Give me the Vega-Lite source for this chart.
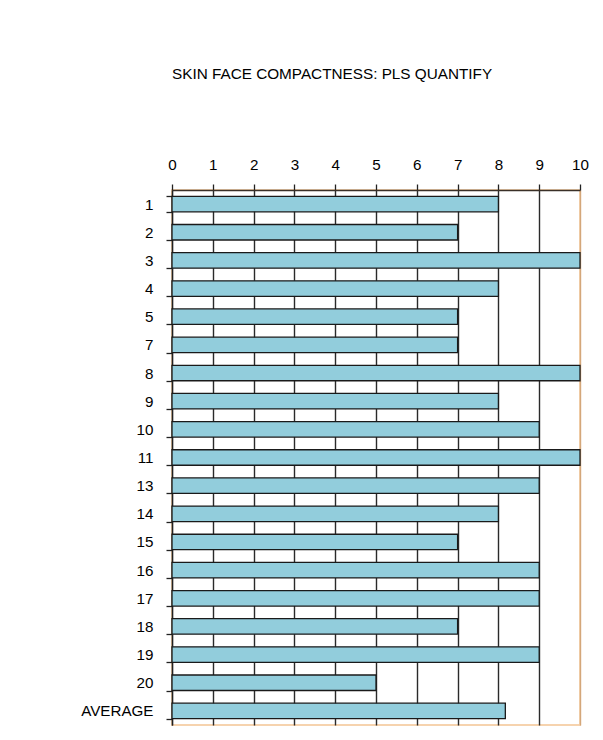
{
  "$schema": "https://vega.github.io/schema/vega-lite/v6.json",
  "autosize": {"type": "none"},
  "padding": {"left": 172, "top": 190, "right": 23, "bottom": 15},
  "width": 408,
  "height": 535,
  "background": "white",
  "title": {
    "text": "SKIN FACE COMPACTNESS: PLS QUANTIFY",
    "anchor": "start",
    "frame": "group",
    "font": "Liberation Sans",
    "fontSize": 15.3,
    "fontWeight": "normal",
    "color": "#000000",
    "offset": 75
  },
  "data": {
    "values": [
      {"row": "1", "score": 8},
      {"row": "2", "score": 7},
      {"row": "3", "score": 10},
      {"row": "4", "score": 8},
      {"row": "5", "score": 7},
      {"row": "7", "score": 7},
      {"row": "8", "score": 10},
      {"row": "9", "score": 8},
      {"row": "10", "score": 9},
      {"row": "11", "score": 10},
      {"row": "13", "score": 9},
      {"row": "14", "score": 8},
      {"row": "15", "score": 7},
      {"row": "16", "score": 9},
      {"row": "17", "score": 9},
      {"row": "18", "score": 7},
      {"row": "19", "score": 9},
      {"row": "20", "score": 5},
      {"row": "AVERAGE", "score": 8.17}
    ]
  },
  "mark": {"type": "bar", "color": "#92cddc", "stroke": "#1a1a1a", "strokeWidth": 1.3},
  "encoding": {
    "y": {
      "field": "row",
      "type": "nominal",
      "sort": null,
      "scale": {"paddingInner": 0.45, "paddingOuter": 0.225},
      "axis": {
        "title": null,
        "tickBand": "extent",
        "tickSize": 6,
        "tickColor": "#222222",
        "tickWidth": 1.3,
        "domainColor": "#222222",
        "domainWidth": 1.3,
        "labelPadding": 13,
        "labelFont": "Liberation Sans",
        "labelFontSize": 15.2,
        "labelColor": "#000000",
        "grid": false
      }
    },
    "x": {
      "field": "score",
      "type": "quantitative",
      "scale": {"domain": [0, 10], "nice": false},
      "axis": {
        "orient": "top",
        "title": null,
        "values": [0, 1, 2, 3, 4, 5, 6, 7, 8, 9, 10],
        "tickSize": 6,
        "tickColor": "#222222",
        "tickWidth": 1.3,
        "domainColor": "#3a3028",
        "domainWidth": 1.3,
        "labelPadding": 12,
        "labelFont": "Liberation Sans",
        "labelFontSize": 15.2,
        "labelColor": "#000000",
        "labelFlush": false,
        "grid": true,
        "gridColor": {"condition": {"test": "datum.value == 10", "value": "#d4a77a"}, "value": "#2a2a2a"},
        "gridWidth": 1.4,
        "gridOpacity": 1
      }
    }
  },
  "config": {
    "view": {"stroke": "#f6d3ae", "strokeWidth": 2}
  }
}
